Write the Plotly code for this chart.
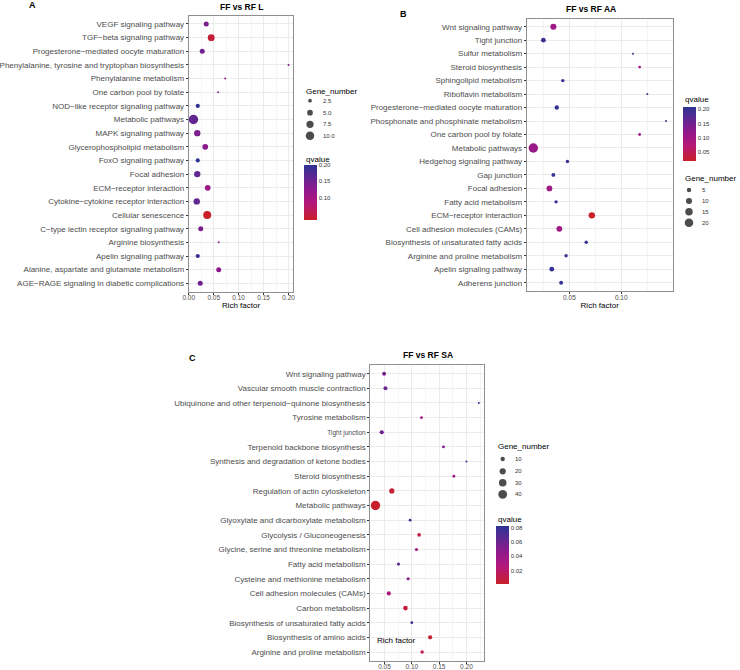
import math
import plotly.graph_objects as go

W, H = 740, 670

# ---------------- Panel A : FF vs RF L ----------------
cats_A = ["VEGF signaling pathway", "TGF−beta signaling pathway",
          "Progesterone−mediated oocyte maturation",
          "Phenylalanine, tyrosine and tryptophan biosynthesis",
          "Phenylalanine metabolism", "One carbon pool by folate",
          "NOD−like receptor signaling pathway", "Metabolic pathways",
          "MAPK signaling pathway", "Glycerophospholipid metabolism",
          "FoxO signaling pathway", "Focal adhesion", "ECM−receptor interaction",
          "Cytokine−cytokine receptor interaction", "Cellular senescence",
          "C−type lectin receptor signaling pathway", "Arginine biosynthesis",
          "Apelin signaling pathway", "Alanine, aspartate and glutamate metabolism",
          "AGE−RAGE signaling in diabetic complications"]
rich_A = [0.035, 0.045, 0.027, 0.200, 0.073, 0.059, 0.018, 0.0094, 0.017, 0.033,
          0.018, 0.017, 0.038, 0.016, 0.037, 0.024, 0.060, 0.018, 0.060, 0.023]
genes_A = [4, 7, 4, 1, 1, 1, 3, 12, 6, 5, 3, 6, 5, 6, 9, 4, 1, 3, 4, 4]
q_A = [0.14, 0.04, 0.15, 0.13, 0.13, 0.13, 0.20, 0.16, 0.14, 0.13,
       0.20, 0.16, 0.11, 0.16, 0.032, 0.14, 0.13, 0.19, 0.125, 0.15]
size_breaks_A = [2.5, 5.0, 7.5, 10.0]
size_labels_A = ["2.5", "5.0", "7.5", "10.0"]
q_ticks_A = [0.10, 0.15, 0.20]

# ---------------- Panel B : FF vs RF AA ----------------
cats_B = ["Wnt signaling pathway", "Tight junction", "Sulfur metabolism",
          "Steroid biosynthesis", "Sphingolipid metabolism", "Riboflavin metabolism",
          "Progesterone−mediated oocyte maturation",
          "Phosphonate and phosphinate metabolism", "One carbon pool by folate",
          "Metabolic pathways", "Hedgehog signaling pathway", "Gap junction",
          "Focal adhesion", "Fatty acid metabolism", "ECM−receptor interaction",
          "Cell adhesion molecules (CAMs)", "Biosynthesis of unsaturated fatty acids",
          "Arginine and proline metabolism", "Apelin signaling pathway",
          "Adherens junction"]
rich_B = [0.0345, 0.0249, 0.1113, 0.1177, 0.0436, 0.1251, 0.0378, 0.1432, 0.1177,
          0.0152, 0.0481, 0.0345, 0.0307, 0.0371, 0.0716, 0.0403, 0.0662, 0.0468,
          0.0330, 0.0420]
genes_B = [10, 6, 1, 2, 3, 1, 5, 1, 2, 24, 3, 4, 9, 3, 11, 9, 3, 3, 6, 4]
q_B = [0.10, 0.19, 0.20, 0.10, 0.20, 0.20, 0.20, 0.207, 0.10, 0.11,
       0.20, 0.20, 0.10, 0.20, 0.017, 0.10, 0.20, 0.20, 0.20, 0.20]
size_breaks_B = [5, 10, 15, 20]
size_labels_B = ["5", "10", "15", "20"]
q_ticks_B = [0.05, 0.10, 0.15, 0.20]

# ---------------- Panel C : FF vs RF SA ----------------
cats_C = ["Wnt signaling pathway", "Vascular smooth muscle contraction",
          "Ubiquinone and other terpenoid−quinone biosynthesis",
          "Tyrosine metabolism", "Tight junction", "Terpenoid backbone biosynthesis",
          "Synthesis and degradation of ketone bodies", "Steroid biosynthesis",
          "Regulation of actin cytoskeleton", "Metabolic pathways",
          "Glyoxylate and dicarboxylate metabolism", "Glycolysis / Gluconeogenesis",
          "Glycine, serine and threonine metabolism", "Fatty acid metabolism",
          "Cysteine and methionine metabolism", "Cell adhesion molecules (CAMs)",
          "Carbon metabolism", "Biosynthesis of unsaturated fatty acids",
          "Biosynthesis of amino acids", "Arginine and proline metabolism"]
rich_C = [0.0493, 0.0518, 0.2227, 0.1177, 0.0450, 0.1580, 0.2000, 0.1770, 0.0634,
          0.0335, 0.0969, 0.1134, 0.1086, 0.0756, 0.0933, 0.0579, 0.0884, 0.1000,
          0.1336, 0.1189]
genes_C = [8, 8, 2, 4, 9, 4, 2, 4, 14, 46, 4, 7, 5, 5, 5, 9, 11, 4, 9, 6]
q_C = [0.055, 0.058, 0.080, 0.035, 0.058, 0.050, 0.0825, 0.040, 0.005, 0.001,
       0.075, 0.010, 0.035, 0.065, 0.050, 0.030, 0.006, 0.078, 0.003, 0.012]
size_breaks_C = [10, 20, 30, 40]
size_labels_C = ["10", "20", "30", "40"]
q_ticks_C = [0.02, 0.04, 0.06, 0.08]

FONT = "Liberation Sans, Arial, Helvetica, sans-serif"
TICK_COL = "#4D4D4D"
GRID = "#EBEBEB"
MINOR = "#F5F5F5"
BORDER = "#8F8F8F"
CSCALE = [[0.0, "#C8202A"], [0.3, "#B4187A"], [0.55, "#90198C"], [1.0, "#2E3494"]]


def px_x(p):
    return p / W


def px_y(p):
    return 1 - p / H


def size_fn(gmin, gmax):
    a, b = math.sqrt(gmin), math.sqrt(gmax)
    return lambda g: 2.0 + 7.4 * (math.sqrt(g) - a) / (b - a)


def xrange(vals):
    lo, hi = min(vals), max(vals)
    s = hi - lo
    return [lo - 0.05 * s, hi + 0.05 * s]


panels = [
    dict(cats=cats_A, rich=rich_A, genes=genes_A, q=q_A, sb=size_breaks_A, sl=size_labels_A,
         qt=q_ticks_A, box=(188.7, 293.3, 15.8, 291.5), title="FF vs RF L", tx=241, ty=7.5,
         xtitle=True, sz_leg=(304, 91, 310, 321, [100.7, 112.7, 124.3, 135.7]),
         q_leg=(304, 159.5, 304.3, 165, 55), lstand=-2),
    dict(cats=cats_B, rich=rich_B, genes=genes_B, q=q_B, sb=size_breaks_B, sl=size_labels_B,
         qt=q_ticks_B, box=(526.7, 672.7, 18.6, 290.8), title="FF vs RF AA", tx=590.5, ty=9.3,
         xtitle=True, sz_leg=(683, 178.3, 689, 700, [190, 201, 211.7, 222.7]),
         q_leg=(683, 100, 682.7, 107.3, 53.7), lstand=-2),
    dict(cats=cats_C, rich=rich_C, genes=genes_C, q=q_C, sb=size_breaks_C, sl=size_labels_C,
         qt=q_ticks_C, box=(370.3, 484.0, 364.9, 660.8), title="FF vs RF SA", tx=428.3, ty=355,
         xtitle=False, sz_leg=(496, 446.7, 502.7, 513, [459, 471.3, 482.7, 494.3]),
         q_leg=(496, 519.3, 496, 526, 58.3), lstand=-3),
]

fig = go.Figure()
layout = dict(width=W, height=H, margin=dict(l=0, r=0, t=0, b=0),
              paper_bgcolor="white", plot_bgcolor="rgba(0,0,0,0)",
              font=dict(family=FONT, size=8, color="black"), showlegend=False)
annotations = []

leg_x, leg_y, leg_s = [], [], []

for i, p in enumerate(panels):
    n = i + 1
    xa = "x" if n == 1 else f"x{n}"
    ya = "y" if n == 1 else f"y{n}"
    ca = "coloraxis" if n == 1 else f"coloraxis{n}"
    fn = size_fn(min(p["genes"]), max(p["genes"]))
    fig.add_trace(go.Scatter(
        x=p["rich"], y=p["cats"], mode="markers", xaxis=xa, yaxis=ya,
        marker=dict(size=[fn(g) for g in p["genes"]], color=p["q"], coloraxis=ca,
                    line=dict(width=0), opacity=1),
        hovertemplate="%{y}<br>Rich factor=%{x}<extra></extra>"))
    x0, x1, y0, y1 = p["box"]
    ncat = len(p["cats"])
    ticktext = [('<span style="font-size:6.5px">' + c + '</span>') if (n == 3 and c == "Tight junction") else c
                for c in p["cats"]]
    layout["xaxis" if n == 1 else f"xaxis{n}"] = dict(
        domain=[px_x(x0), px_x(x1)], anchor=ya, range=xrange(p["rich"]),
        tick0=0, dtick=0.05, tickformat=".2f", ticks="outside", ticklen=2, tickwidth=0.7,
        tickcolor="#333333", tickfont=dict(size=6.5, color=TICK_COL), ticklabelstandoff=p["lstand"],
        showgrid=True, gridcolor=GRID, gridwidth=0.8,
        minor=dict(dtick=0.025, showgrid=True, gridcolor=MINOR, gridwidth=0.6),
        showline=True, mirror=True, linecolor=BORDER, linewidth=1, zeroline=False,
        title=dict(text="Rich factor" if p["xtitle"] else "", font=dict(size=8, color="black"), standoff=1),
        automargin=False, fixedrange=True)
    layout["yaxis" if n == 1 else f"yaxis{n}"] = dict(
        domain=[px_y(y1), px_y(y0)], anchor=xa, type="category",
        categoryorder="array", categoryarray=list(reversed(p["cats"])),
        tickmode="array", tickvals=p["cats"], ticktext=ticktext,
        range=[-0.6, ncat - 0.4], ticks="outside", ticklen=2, tickwidth=0.7,
        tickcolor="#333333", tickfont=dict(size=8, color=TICK_COL),
        showgrid=True, gridcolor=GRID, gridwidth=0.8,
        showline=True, mirror=True, linecolor=BORDER, linewidth=1, zeroline=False,
        automargin=False, fixedrange=True)
    # colour bar
    qx_title, qy_title, bar_x, bar_y, bar_len = p["q_leg"]
    layout[ca] = dict(colorscale=CSCALE, colorbar=dict(
        x=px_x(bar_x), xanchor="left", y=px_y(bar_y), yanchor="top",
        len=bar_len, lenmode="pixels", thickness=12.5, thicknessmode="pixels",
        xpad=0, ypad=0, outlinewidth=0, ticks="", tickmode="array",
        tickvals=p["qt"], ticktext=[f"{v:.2f}" for v in p["qt"]],
        tickfont=dict(size=6, color="#333333")))
    annotations.append(dict(text="qvalue", x=px_x(qx_title), y=px_y(qy_title), xref="paper",
                            yref="paper", xanchor="left", yanchor="middle", showarrow=False,
                            font=dict(size=8, color="black")))
    # size legend
    tx_, ty_, dx_, lx_, ys_ = p["sz_leg"]
    annotations.append(dict(text="Gene_number", x=px_x(tx_), y=px_y(ty_), xref="paper",
                            yref="paper", xanchor="left", yanchor="middle", showarrow=False,
                            font=dict(size=8, color="black")))
    for v, lab, yy in zip(p["sb"], p["sl"], ys_):
        leg_x.append(dx_)
        leg_y.append(yy)
        leg_s.append(fn(v))
        annotations.append(dict(text=lab, x=px_x(lx_), y=px_y(yy), xref="paper", yref="paper",
                                xanchor="left", yanchor="middle", showarrow=False,
                                font=dict(size=6, color="#333333")))
    # panel title
    annotations.append(dict(text="<b>" + p["title"] + "</b>", x=px_x(p["tx"]), y=px_y(p["ty"]),
                            xref="paper", yref="paper", xanchor="center", yanchor="middle",
                            showarrow=False, font=dict(size=8.5, color="black")))

# size-legend keys on a full-page helper axis
fig.add_trace(go.Scatter(x=leg_x, y=leg_y, mode="markers", xaxis="x4", yaxis="y4",
                         marker=dict(size=leg_s, color="black", line=dict(width=0)),
                         hoverinfo="skip"))
layout["xaxis4"] = dict(domain=[0, 1], anchor="y4", range=[0, W], visible=False, fixedrange=True)
layout["yaxis4"] = dict(domain=[0, 1], anchor="x4", range=[H, 0], visible=False, fixedrange=True)

# panel letters and inner axis title of C
for lab, xx, yy in [("A", 32, 5), ("B", 403, 14), ("C", 192, 358)]:
    annotations.append(dict(text="<b>" + lab + "</b>", x=px_x(xx), y=px_y(yy), xref="paper",
                            yref="paper", xanchor="center", yanchor="middle", showarrow=False,
                            font=dict(size=9, color="black")))
annotations.append(dict(text="Rich factor", x=px_x(397), y=px_y(640), xref="paper", yref="paper",
                        xanchor="center", yanchor="middle", showarrow=False,
                        font=dict(size=8, color="black")))

layout["annotations"] = annotations
fig.update_layout(**layout)
fig.write_html("out.html", config={"displayModeBar": False},
               post_script="document.body.style.margin='0';document.body.style.padding='0';")
